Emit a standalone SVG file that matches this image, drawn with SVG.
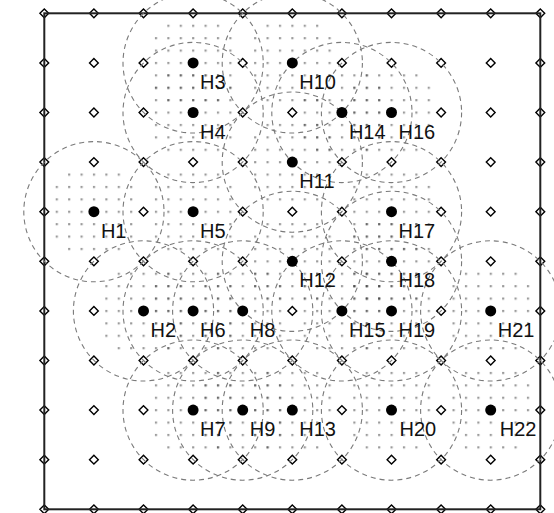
<svg xmlns="http://www.w3.org/2000/svg" xmlns:xlink="http://www.w3.org/1999/xlink" width="554" height="513" viewBox="0 0 554 513">
<style>
.dm{fill:#fff;stroke:#000;stroke-width:1.4}
.cov{fill:none;stroke:#7a7a7a;stroke-width:1.1;stroke-dasharray:5 4}
.hn{fill:#000}
.lb{font-family:"Liberation Sans",Arial,sans-serif;font-size:20px;fill:#111}
.dd{fill:url(#dots);opacity:0.5}
.frame{fill:none;stroke:#222;stroke-width:2}
</style>
<defs>
<pattern id="dots" patternUnits="userSpaceOnUse" x="43.3" y="12.3" width="12.4" height="12.4"><rect width="2.2" height="2.2" fill="#3a3a3a"/></pattern>
<path id="dm" d="M0,-4.4L4.4,0L0,4.4L-4.4,0Z"/>
</defs>
<rect width="554" height="513" fill="#fff"/>
<g id="density">
<circle class="dd" cx="93.9" cy="211.7" r="47"/>
<circle class="dd" cx="143.5" cy="310.9" r="47"/>
<circle class="dd" cx="193.1" cy="62.9" r="47"/>
<circle class="dd" cx="193.1" cy="112.5" r="47"/>
<circle class="dd" cx="193.1" cy="211.7" r="47"/>
<circle class="dd" cx="193.1" cy="310.9" r="47"/>
<circle class="dd" cx="193.1" cy="410.1" r="47"/>
<circle class="dd" cx="242.7" cy="310.9" r="47"/>
<circle class="dd" cx="242.7" cy="410.1" r="47"/>
<circle class="dd" cx="292.3" cy="62.9" r="47"/>
<circle class="dd" cx="292.3" cy="162.1" r="47"/>
<circle class="dd" cx="292.3" cy="261.3" r="47"/>
<circle class="dd" cx="292.3" cy="410.1" r="47"/>
<circle class="dd" cx="341.9" cy="112.5" r="47"/>
<circle class="dd" cx="341.9" cy="310.9" r="47"/>
<circle class="dd" cx="391.5" cy="112.5" r="47"/>
<circle class="dd" cx="391.5" cy="211.7" r="47"/>
<circle class="dd" cx="391.5" cy="261.3" r="47"/>
<circle class="dd" cx="391.5" cy="310.9" r="47"/>
<circle class="dd" cx="391.5" cy="410.1" r="47"/>
<circle class="dd" cx="490.7" cy="310.9" r="47"/>
<circle class="dd" cx="490.7" cy="410.1" r="47"/>
</g>
<g id="grid">
<use href="#dm" class="dm" x="44.3" y="13.3"/><use href="#dm" class="dm" x="93.9" y="13.3"/><use href="#dm" class="dm" x="143.5" y="13.3"/><use href="#dm" class="dm" x="193.1" y="13.3"/><use href="#dm" class="dm" x="242.7" y="13.3"/><use href="#dm" class="dm" x="292.3" y="13.3"/><use href="#dm" class="dm" x="341.9" y="13.3"/><use href="#dm" class="dm" x="391.5" y="13.3"/><use href="#dm" class="dm" x="441.1" y="13.3"/><use href="#dm" class="dm" x="490.7" y="13.3"/><use href="#dm" class="dm" x="540.3" y="13.3"/>
<use href="#dm" class="dm" x="44.3" y="62.9"/><use href="#dm" class="dm" x="93.9" y="62.9"/><use href="#dm" class="dm" x="143.5" y="62.9"/><use href="#dm" class="dm" x="242.7" y="62.9"/><use href="#dm" class="dm" x="341.9" y="62.9"/><use href="#dm" class="dm" x="391.5" y="62.9"/><use href="#dm" class="dm" x="441.1" y="62.9"/><use href="#dm" class="dm" x="490.7" y="62.9"/><use href="#dm" class="dm" x="540.3" y="62.9"/>
<use href="#dm" class="dm" x="44.3" y="112.5"/><use href="#dm" class="dm" x="93.9" y="112.5"/><use href="#dm" class="dm" x="143.5" y="112.5"/><use href="#dm" class="dm" x="242.7" y="112.5"/><use href="#dm" class="dm" x="292.3" y="112.5"/><use href="#dm" class="dm" x="441.1" y="112.5"/><use href="#dm" class="dm" x="490.7" y="112.5"/><use href="#dm" class="dm" x="540.3" y="112.5"/>
<use href="#dm" class="dm" x="44.3" y="162.1"/><use href="#dm" class="dm" x="93.9" y="162.1"/><use href="#dm" class="dm" x="143.5" y="162.1"/><use href="#dm" class="dm" x="193.1" y="162.1"/><use href="#dm" class="dm" x="242.7" y="162.1"/><use href="#dm" class="dm" x="341.9" y="162.1"/><use href="#dm" class="dm" x="391.5" y="162.1"/><use href="#dm" class="dm" x="441.1" y="162.1"/><use href="#dm" class="dm" x="490.7" y="162.1"/><use href="#dm" class="dm" x="540.3" y="162.1"/>
<use href="#dm" class="dm" x="44.3" y="211.7"/><use href="#dm" class="dm" x="143.5" y="211.7"/><use href="#dm" class="dm" x="242.7" y="211.7"/><use href="#dm" class="dm" x="292.3" y="211.7"/><use href="#dm" class="dm" x="341.9" y="211.7"/><use href="#dm" class="dm" x="441.1" y="211.7"/><use href="#dm" class="dm" x="490.7" y="211.7"/><use href="#dm" class="dm" x="540.3" y="211.7"/>
<use href="#dm" class="dm" x="44.3" y="261.3"/><use href="#dm" class="dm" x="93.9" y="261.3"/><use href="#dm" class="dm" x="143.5" y="261.3"/><use href="#dm" class="dm" x="193.1" y="261.3"/><use href="#dm" class="dm" x="242.7" y="261.3"/><use href="#dm" class="dm" x="341.9" y="261.3"/><use href="#dm" class="dm" x="441.1" y="261.3"/><use href="#dm" class="dm" x="490.7" y="261.3"/><use href="#dm" class="dm" x="540.3" y="261.3"/>
<use href="#dm" class="dm" x="44.3" y="310.9"/><use href="#dm" class="dm" x="93.9" y="310.9"/><use href="#dm" class="dm" x="292.3" y="310.9"/><use href="#dm" class="dm" x="441.1" y="310.9"/><use href="#dm" class="dm" x="540.3" y="310.9"/>
<use href="#dm" class="dm" x="44.3" y="360.5"/><use href="#dm" class="dm" x="93.9" y="360.5"/><use href="#dm" class="dm" x="143.5" y="360.5"/><use href="#dm" class="dm" x="193.1" y="360.5"/><use href="#dm" class="dm" x="242.7" y="360.5"/><use href="#dm" class="dm" x="292.3" y="360.5"/><use href="#dm" class="dm" x="341.9" y="360.5"/><use href="#dm" class="dm" x="391.5" y="360.5"/><use href="#dm" class="dm" x="441.1" y="360.5"/><use href="#dm" class="dm" x="490.7" y="360.5"/><use href="#dm" class="dm" x="540.3" y="360.5"/>
<use href="#dm" class="dm" x="44.3" y="410.1"/><use href="#dm" class="dm" x="93.9" y="410.1"/><use href="#dm" class="dm" x="143.5" y="410.1"/><use href="#dm" class="dm" x="341.9" y="410.1"/><use href="#dm" class="dm" x="441.1" y="410.1"/><use href="#dm" class="dm" x="540.3" y="410.1"/>
<use href="#dm" class="dm" x="44.3" y="459.7"/><use href="#dm" class="dm" x="93.9" y="459.7"/><use href="#dm" class="dm" x="143.5" y="459.7"/><use href="#dm" class="dm" x="193.1" y="459.7"/><use href="#dm" class="dm" x="242.7" y="459.7"/><use href="#dm" class="dm" x="292.3" y="459.7"/><use href="#dm" class="dm" x="341.9" y="459.7"/><use href="#dm" class="dm" x="391.5" y="459.7"/><use href="#dm" class="dm" x="441.1" y="459.7"/><use href="#dm" class="dm" x="490.7" y="459.7"/><use href="#dm" class="dm" x="540.3" y="459.7"/>
<use href="#dm" class="dm" x="44.3" y="509.3"/><use href="#dm" class="dm" x="93.9" y="509.3"/><use href="#dm" class="dm" x="143.5" y="509.3"/><use href="#dm" class="dm" x="193.1" y="509.3"/><use href="#dm" class="dm" x="242.7" y="509.3"/><use href="#dm" class="dm" x="292.3" y="509.3"/><use href="#dm" class="dm" x="341.9" y="509.3"/><use href="#dm" class="dm" x="391.5" y="509.3"/><use href="#dm" class="dm" x="441.1" y="509.3"/><use href="#dm" class="dm" x="490.7" y="509.3"/><use href="#dm" class="dm" x="540.3" y="509.3"/>
</g>
<rect class="frame" x="44.3" y="13.3" width="496" height="496"/>
<g id="connectors">
<circle class="cov" cx="93.9" cy="211.7" r="70.1"/>
<circle class="cov" cx="143.5" cy="310.9" r="70.1"/>
<circle class="cov" cx="193.1" cy="62.9" r="70.1"/>
<circle class="cov" cx="193.1" cy="112.5" r="70.1"/>
<circle class="cov" cx="193.1" cy="211.7" r="70.1"/>
<circle class="cov" cx="193.1" cy="310.9" r="70.1"/>
<circle class="cov" cx="193.1" cy="410.1" r="70.1"/>
<circle class="cov" cx="242.7" cy="310.9" r="70.1"/>
<circle class="cov" cx="242.7" cy="410.1" r="70.1"/>
<circle class="cov" cx="292.3" cy="62.9" r="70.1"/>
<circle class="cov" cx="292.3" cy="162.1" r="70.1"/>
<circle class="cov" cx="292.3" cy="261.3" r="70.1"/>
<circle class="cov" cx="292.3" cy="410.1" r="70.1"/>
<circle class="cov" cx="341.9" cy="112.5" r="70.1"/>
<circle class="cov" cx="341.9" cy="310.9" r="70.1"/>
<circle class="cov" cx="391.5" cy="112.5" r="70.1"/>
<circle class="cov" cx="391.5" cy="211.7" r="70.1"/>
<circle class="cov" cx="391.5" cy="261.3" r="70.1"/>
<circle class="cov" cx="391.5" cy="310.9" r="70.1"/>
<circle class="cov" cx="391.5" cy="410.1" r="70.1"/>
<circle class="cov" cx="490.7" cy="310.9" r="70.1"/>
<circle class="cov" cx="490.7" cy="410.1" r="70.1"/>
</g>
<g id="H1"><circle class="hn" cx="93.9" cy="211.7" r="5.5"/><text class="lb" x="100.9" y="237.7">H1</text></g>
<g id="H2"><circle class="hn" cx="143.5" cy="310.9" r="5.5"/><text class="lb" x="150.5" y="336.9">H2</text></g>
<g id="H3"><circle class="hn" cx="193.1" cy="62.9" r="5.5"/><text class="lb" x="200.1" y="88.9">H3</text></g>
<g id="H4"><circle class="hn" cx="193.1" cy="112.5" r="5.5"/><text class="lb" x="200.1" y="138.5">H4</text></g>
<g id="H5"><circle class="hn" cx="193.1" cy="211.7" r="5.5"/><text class="lb" x="200.1" y="237.7">H5</text></g>
<g id="H6"><circle class="hn" cx="193.1" cy="310.9" r="5.5"/><text class="lb" x="200.1" y="336.9">H6</text></g>
<g id="H7"><circle class="hn" cx="193.1" cy="410.1" r="5.5"/><text class="lb" x="200.1" y="436.1">H7</text></g>
<g id="H8"><circle class="hn" cx="242.7" cy="310.9" r="5.5"/><text class="lb" x="249.7" y="336.9">H8</text></g>
<g id="H9"><circle class="hn" cx="242.7" cy="410.1" r="5.5"/><text class="lb" x="249.7" y="436.1">H9</text></g>
<g id="H10"><circle class="hn" cx="292.3" cy="62.9" r="5.5"/><text class="lb" x="299.3" y="88.9">H10</text></g>
<g id="H11"><circle class="hn" cx="292.3" cy="162.1" r="5.5"/><text class="lb" x="299.3" y="188.1">H11</text></g>
<g id="H12"><circle class="hn" cx="292.3" cy="261.3" r="5.5"/><text class="lb" x="299.3" y="287.3">H12</text></g>
<g id="H13"><circle class="hn" cx="292.3" cy="410.1" r="5.5"/><text class="lb" x="299.3" y="436.1">H13</text></g>
<g id="H14"><circle class="hn" cx="341.9" cy="112.5" r="5.5"/><text class="lb" x="348.9" y="138.5">H14</text></g>
<g id="H15"><circle class="hn" cx="341.9" cy="310.9" r="5.5"/><text class="lb" x="348.9" y="336.9">H15</text></g>
<g id="H16"><circle class="hn" cx="391.5" cy="112.5" r="5.5"/><text class="lb" x="398.5" y="138.5">H16</text></g>
<g id="H17"><circle class="hn" cx="391.5" cy="211.7" r="5.5"/><text class="lb" x="398.5" y="237.7">H17</text></g>
<g id="H18"><circle class="hn" cx="391.5" cy="261.3" r="5.5"/><text class="lb" x="398.5" y="287.3">H18</text></g>
<g id="H19"><circle class="hn" cx="391.5" cy="310.9" r="5.5"/><text class="lb" x="398.5" y="336.9">H19</text></g>
<g id="H20"><circle class="hn" cx="391.5" cy="410.1" r="5.5"/><text class="lb" x="399.5" y="436.1">H20</text></g>
<g id="H21"><circle class="hn" cx="490.7" cy="310.9" r="5.5"/><text class="lb" x="497.7" y="336.9">H21</text></g>
<g id="H22"><circle class="hn" cx="490.7" cy="410.1" r="5.5"/><text class="lb" x="499.7" y="436.1">H22</text></g>
</svg>
